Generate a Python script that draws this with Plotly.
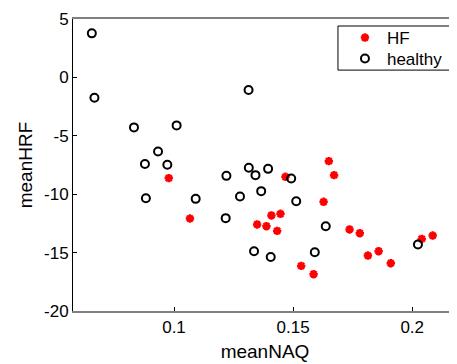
import plotly.graph_objects as go

hf_naq = [0.0978, 0.1067, 0.1468, 0.1650, 0.1672, 0.1628, 0.1349, 0.1388, 0.1409, 0.1447,
          0.1433, 0.1737, 0.1780, 0.1814, 0.1859, 0.1910, 0.1534, 0.1586, 0.2040, 0.2086]
hf_hrf = [-8.62, -12.08, -8.51, -7.17, -8.37, -10.65, -12.59, -12.74, -11.82, -11.68,
          -13.14, -13.02, -13.34, -15.25, -14.88, -15.91, -16.14, -16.85, -13.83, -13.54]

healthy_naq = [0.0655, 0.0666, 0.0832, 0.1011, 0.0933, 0.0878, 0.0972, 0.1220, 0.0882, 0.1091,
               0.1217, 0.1313, 0.1314, 0.1342, 0.1395, 0.1492, 0.1277, 0.1366, 0.1513, 0.1637,
               0.1336, 0.1406, 0.1591, 0.2024]
healthy_hrf = [3.77, -1.74, -4.28, -4.11, -6.34, -7.42, -7.48, -8.43, -10.34, -10.40,
               -12.05, -1.08, -7.74, -8.37, -7.83, -8.65, -10.20, -9.74, -10.60, -12.74,
               -14.88, -15.37, -14.97, -14.31]

x_ticks = [0.1, 0.15, 0.2]
x_labels = ["0.1", "0.15", "0.2"]
y_ticks = [5, 0, -5, -10, -15, -20]
y_labels = ["5", "0", "-5", "-10", "-15", "-20"]

fig = go.Figure()
fig.add_trace(go.Scatter(
    x=hf_naq, y=hf_hrf, mode="markers", name="HF", legend="legend",
    marker=dict(symbol="asterisk-open", size=7, color="red", line=dict(color="red", width=2.5)),
))
fig.add_trace(go.Scatter(
    x=healthy_naq, y=healthy_hrf, mode="markers", name="healthy", legend="legend2",
    marker=dict(symbol="circle-open", size=8, color="black", line=dict(color="black", width=2)),
))

font = "Liberation Sans, Arial, sans-serif"
leg_common = dict(x=0.703, xanchor="left", yanchor="middle",
                  bgcolor="rgba(0,0,0,0)", borderwidth=0,
                  font=dict(size=17), itemwidth=34)
fig.update_layout(
    width=449, height=356,
    margin=dict(l=65, r=0, t=11, b=53),
    paper_bgcolor="white", plot_bgcolor="white",
    font=dict(family=font, color="black", size=17),
    showlegend=True,
    legend=dict(y=0.935, **leg_common),
    legend2=dict(y=0.863, **leg_common),
    shapes=[dict(type="rect", xref="paper", yref="paper",
                 x0=0.690, x1=0.984, y0=0.825, y1=0.976,
                 line=dict(color="black", width=1), fillcolor="rgba(0,0,0,0)", layer="above")],
    xaxis=dict(
        range=[0.0576, 0.2188], tickvals=x_ticks, ticktext=x_labels,
        ticks="inside", ticklen=4, tickcolor="black",
        showline=True, linecolor="#808080", linewidth=2, mirror=True,
        showgrid=False, zeroline=False,
        title=dict(text="meanNAQ", font=dict(size=19), standoff=8),
        tickfont=dict(size=17),
    ),
    yaxis=dict(
        range=[-20, 5], tickvals=y_ticks, ticktext=y_labels,
        ticks="inside", ticklen=4, tickcolor="black",
        showline=True, linecolor="black", linewidth=1, mirror=False,
        showgrid=False, zeroline=False,
        title=dict(text="meanHRF", font=dict(size=19), standoff=6),
        tickfont=dict(size=17),
    ),
)

fig.write_html("out.html")
